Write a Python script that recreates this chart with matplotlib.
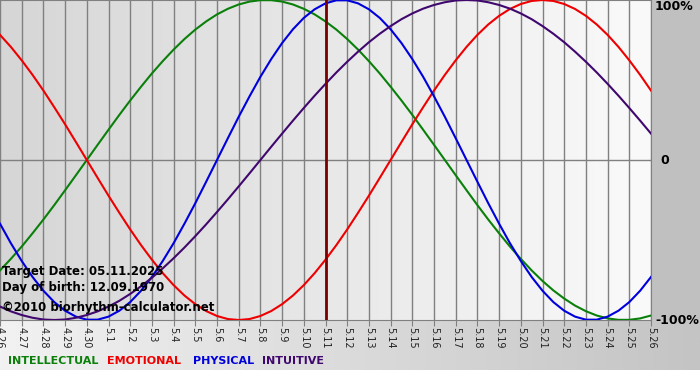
import numpy as np
from matplotlib import pyplot as plt
from matplotlib.colors import LinearSegmentedColormap

# day labels from 4.26 to 5.26
days = ['4.26', '4.27', '4.28', '4.29', '4.30'] + ['5.%d' % d for d in range(1, 27)]

# rhythm values every half day (-1 .. 1), 4.26 -> 5.26
intellectual = [-0.690, -0.618, -0.541, -0.458, -0.372, -0.282, -0.189, -0.095, 0.000, 0.095,
                0.189, 0.282, 0.372, 0.458, 0.541, 0.618, 0.690, 0.756, 0.815, 0.866,
                0.910, 0.945, 0.972, 0.990, 0.999, 0.999, 0.990, 0.972, 0.945, 0.910,
                0.866, 0.815, 0.756, 0.690, 0.618, 0.541, 0.458, 0.372, 0.282, 0.189,
                0.095, 0.000, -0.095, -0.189, -0.282, -0.372, -0.458, -0.541, -0.618, -0.690,
                -0.756, -0.815, -0.866, -0.910, -0.945, -0.972, -0.990, -0.999, -0.999, -0.990,
                -0.972]
emotional = [0.782, 0.707, 0.623, 0.532, 0.434, 0.330, 0.223, 0.112, 0.000, -0.112,
             -0.223, -0.330, -0.434, -0.532, -0.623, -0.707, -0.782, -0.847, -0.901, -0.944,
             -0.975, -0.994, -1.000, -0.994, -0.975, -0.944, -0.901, -0.847, -0.782, -0.707,
             -0.623, -0.532, -0.434, -0.330, -0.223, -0.112, 0.000, 0.112, 0.223, 0.330,
             0.434, 0.532, 0.623, 0.707, 0.782, 0.847, 0.901, 0.944, 0.975, 0.994,
             1.000, 0.994, 0.975, 0.944, 0.901, 0.847, 0.782, 0.707, 0.623, 0.532,
             0.434]
physical = [-0.398, -0.520, -0.631, -0.731, -0.817, -0.888, -0.942, -0.979, -0.998, -0.998,
            -0.979, -0.942, -0.888, -0.817, -0.731, -0.631, -0.520, -0.398, -0.270, -0.136,
            0.000, 0.136, 0.270, 0.398, 0.520, 0.631, 0.731, 0.817, 0.888, 0.942,
            0.979, 0.998, 0.998, 0.979, 0.942, 0.888, 0.817, 0.731, 0.631, 0.520,
            0.398, 0.270, 0.136, 0.000, -0.136, -0.270, -0.398, -0.520, -0.631, -0.731,
            -0.817, -0.888, -0.942, -0.979, -0.998, -0.998, -0.979, -0.942, -0.888, -0.817,
            -0.731]
intuitive = [-0.916, -0.946, -0.969, -0.986, -0.997, -1.000, -0.997, -0.986, -0.969, -0.946,
             -0.916, -0.880, -0.837, -0.789, -0.736, -0.677, -0.614, -0.547, -0.476, -0.402,
             -0.325, -0.246, -0.165, -0.083, 0.000, 0.083, 0.165, 0.246, 0.325, 0.402,
             0.476, 0.547, 0.614, 0.677, 0.736, 0.789, 0.837, 0.880, 0.916, 0.946,
             0.969, 0.986, 0.997, 1.000, 0.997, 0.986, 0.969, 0.946, 0.916, 0.880,
             0.837, 0.789, 0.736, 0.677, 0.614, 0.547, 0.476, 0.402, 0.325, 0.246,
             0.165]
target_day = '5.11'

W, H = 700, 380
fig = plt.figure(figsize=(7, 3.8), dpi=100)
fig.patch.set_facecolor('white')

# grey right margin + bottom strip with gradient
side = fig.add_axes([0, 10 / H, 1, 1 - 10 / H])
side.set_axis_off()
side.add_patch(plt.Rectangle((0, 0), 1, 1, color='#c0c0c0', transform=side.transAxes))
bot = fig.add_axes([0, 10 / H, 1, 50 / H])
bot.set_axis_off()
grad_b = LinearSegmentedColormap.from_list('gb', ['#f2f2f2', '#c4c4c4'])
bot.imshow(np.linspace(0, 1, 256)[None, :], aspect='auto', cmap=grad_b, extent=[0, 1, 0, 1])

ax = fig.add_axes([0, 60 / H, 651 / W, 320 / H])
x = np.arange(len(days))
xs = np.arange(len(physical)) / 2  # half-day positions
grad_p = LinearSegmentedColormap.from_list('gp', ['#d6d6d6', '#fafafa'])
ax.imshow(np.linspace(0, 1, 256)[None, :], aspect='auto', cmap=grad_p,
          extent=[0, len(days) - 1, -1.0, 1.0], zorder=0)

for xi in x:
    ax.axvline(xi, color='#808080', lw=1, zorder=1)
ax.axhline(0, color='#808080', lw=1, zorder=1)

ax.plot(xs, intellectual, color='#0a800a', lw=1.5, zorder=3)
ax.plot(xs, emotional, color='#ee0000', lw=1.5, zorder=3)
ax.plot(xs, physical, color='#0000dd', lw=1.5, zorder=3)
ax.plot(xs, intuitive, color='#40086e', lw=1.5, zorder=3)
ax.axvline(days.index(target_day), color='#7a0000', lw=2, zorder=4)

ax.set_xlim(0, len(days) - 1)
ax.set_ylim(-1.0, 1.0)
ax.set_xticks(x)
ax.set_xticklabels(days, rotation=-90, fontsize=7, color='#222222')
ax.tick_params(axis='x', length=4, color='#808080', pad=1)
ax.set_yticks([])
for s in ax.spines.values():
    s.set_color('#808080')
ax.spines['left'].set_visible(False)

bold = dict(fontsize=8.5, fontweight='bold', color='black', zorder=5)
ax.text(0.1, -0.70, 'Target Date: 05.11.2025', va='center', **bold)
ax.text(0.1, -0.80, 'Day of birth: 12.09.1970', va='center', **bold)
ax.text(0.1, -0.92, '\u00a92010 biorhythm-calculator.net', va='center', **bold)

fig.text(655 / W, 1 - 7 / H, '100%', fontsize=9, fontweight='bold', va='center')
fig.text(660 / W, 1 - 160 / H, '0', fontsize=9, fontweight='bold', va='center')
fig.text(655 / W, 1 - 321 / H, '-100%', fontsize=9, fontweight='bold', va='center')

leg = [('INTELLECTUAL', '#0a800a', 8), ('EMOTIONAL', '#ee0000', 107),
       ('PHYSICAL', '#0000dd', 193), ('INTUITIVE', '#40086e', 262)]
for name, col, px in leg:
    fig.text(px / W, 1 - 361 / H, name, color=col, fontsize=8, fontweight='bold', va='center')

plt.savefig('out.png', dpi=100)
